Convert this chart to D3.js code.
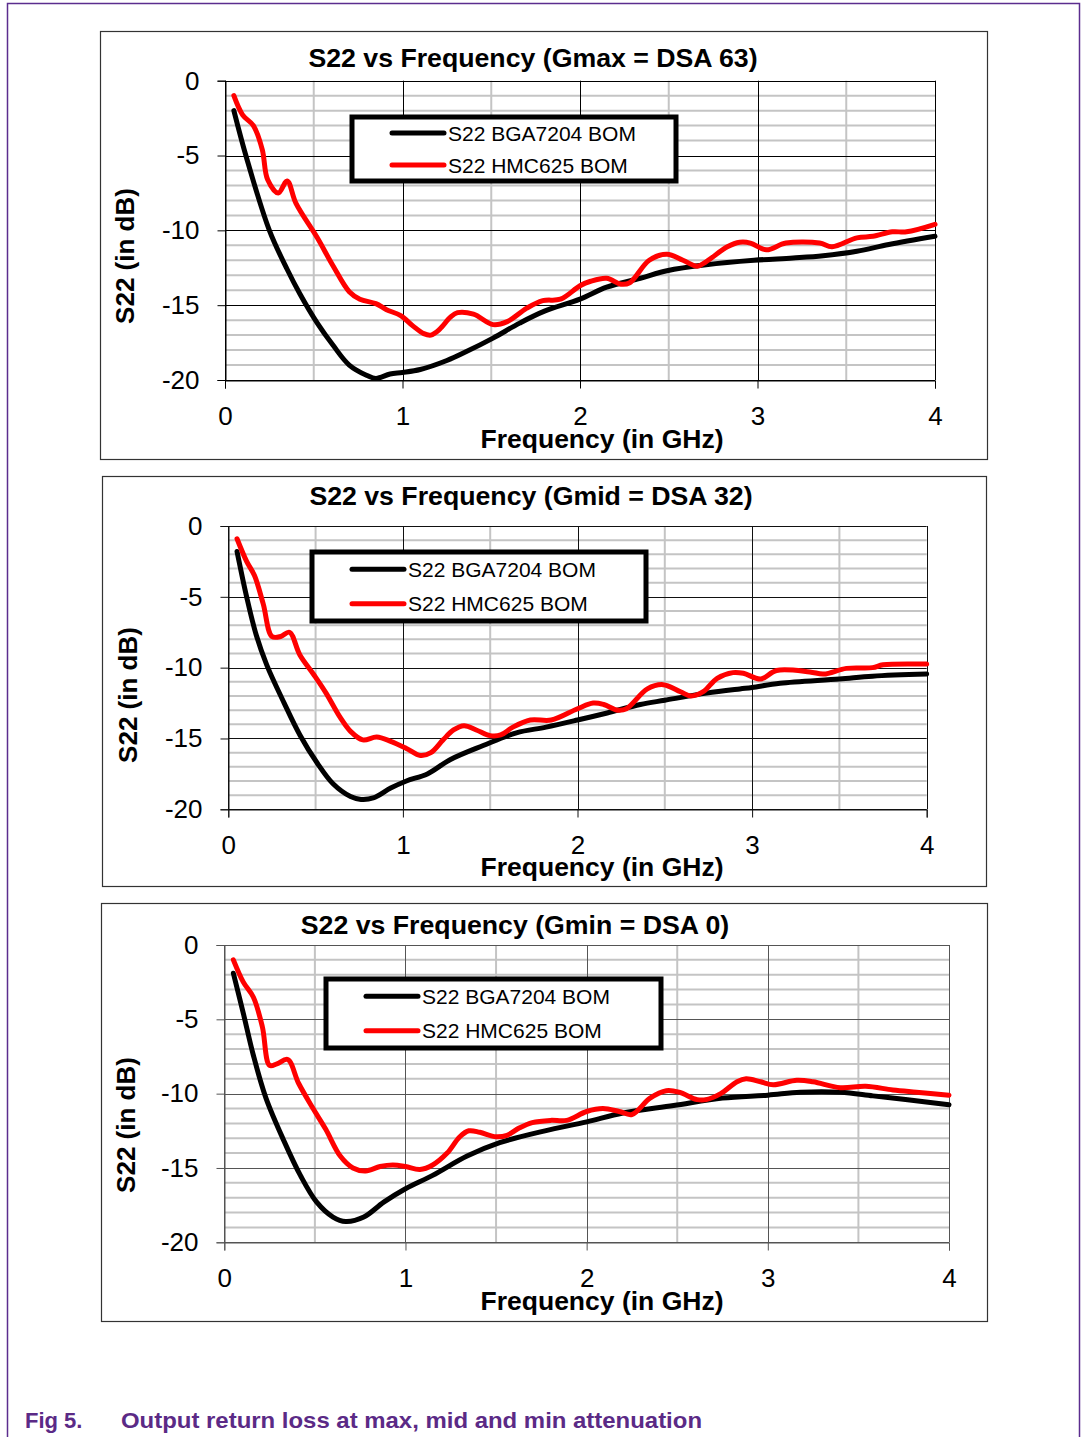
<!DOCTYPE html>
<html>
<head>
<meta charset="utf-8">
<script src="https://cdn.jsdelivr.net/npm/d3@7"></script>
<style>
  body { margin: 0; background: #fff; }
  svg { display: block; font-family: Arial, "Liberation Sans", sans-serif; }
</style>
</head>
<body>
<svg id="fig"></svg>
<script>
const width = 1081;
const height = 1437;

// ---- data ----
const xTicks = [0, 1, 2, 3, 4];
const yTicks = [0, -5, -10, -15, -20];
const seriesNames = ['S22 BGA7204 BOM', 'S22 HMC625 BOM'];
const chartTitles = [
  'S22 vs Frequency (Gmax = DSA 63)',
  'S22 vs Frequency (Gmid = DSA 32)',
  'S22 vs Frequency (Gmin = DSA 0)'
];

// Gmax = DSA 63
const maxBgaFreq = [0.05, 0.12, 0.25, 0.35, 0.42, 0.52, 0.61, 0.70, 0.80, 0.85, 0.93, 1.0, 1.1, 1.25, 1.36, 1.51, 1.66, 1.8, 2.0, 2.15, 2.34, 2.49, 2.71, 2.98, 3.2, 3.37, 3.56, 3.74, 4.0];
const maxBgaS22 = [-2.0, -5.1, -10.0, -12.6, -14.2, -16.2, -17.7, -19.0, -19.7, -19.9, -19.6, -19.5, -19.3, -18.7, -18.1, -17.2, -16.2, -15.4, -14.6, -13.8, -13.2, -12.7, -12.3, -12.0, -11.85, -11.7, -11.4, -10.95, -10.4];
const maxHmcFreq = [0.05, 0.10, 0.16, 0.21, 0.24, 0.30, 0.35, 0.40, 0.52, 0.61, 0.70, 0.76, 0.85, 0.91, 0.99, 1.06, 1.12, 1.16, 1.21, 1.27, 1.31, 1.40, 1.51, 1.59, 1.70, 1.79, 1.89, 2.0, 2.06, 2.15, 2.23, 2.28, 2.39, 2.49, 2.58, 2.66, 2.71, 2.83, 2.9, 2.96, 3.05, 3.16, 3.35, 3.42, 3.56, 3.65, 3.76, 3.84, 4.0];
const maxHmcS22 = [-1.0, -2.3, -3.0, -4.6, -6.6, -7.5, -6.7, -8.2, -10.5, -12.4, -14.1, -14.6, -14.9, -15.3, -15.7, -16.4, -16.9, -17.0, -16.6, -15.8, -15.5, -15.6, -16.3, -16.1, -15.2, -14.7, -14.6, -13.7, -13.4, -13.2, -13.6, -13.5, -12.0, -11.6, -12.0, -12.4, -12.1, -11.1, -10.8, -10.85, -11.3, -10.85, -10.85, -11.1, -10.5, -10.4, -10.1, -10.1, -9.6];

// Gmid = DSA 32
const midBgaFreq = [0.05, 0.105, 0.16, 0.22, 0.32, 0.41, 0.51, 0.60, 0.70, 0.76, 0.83, 0.93, 1.02, 1.14, 1.27, 1.46, 1.65, 1.82, 2.0, 2.17, 2.36, 2.5, 2.74, 2.93, 3.0, 3.16, 3.5, 3.69, 4.0];
const midBgaS22 = [-1.8, -5.0, -7.7, -9.8, -12.5, -14.75, -16.75, -18.2, -19.1, -19.3, -19.2, -18.5, -18.0, -17.5, -16.5, -15.5, -14.6, -14.2, -13.7, -13.2, -12.6, -12.3, -11.8, -11.5, -11.4, -11.1, -10.8, -10.6, -10.45];
const midHmcFreq = [0.05, 0.105, 0.15, 0.2, 0.25, 0.30, 0.35, 0.41, 0.49, 0.56, 0.64, 0.70, 0.77, 0.85, 0.93, 1.02, 1.10, 1.16, 1.23, 1.29, 1.35, 1.42, 1.50, 1.56, 1.63, 1.73, 1.85, 2.0, 2.09, 2.15, 2.23, 2.28, 2.4, 2.49, 2.59, 2.65, 2.72, 2.8, 2.89, 2.95, 3.05, 3.14, 3.33, 3.41, 3.54, 3.69, 3.75, 4.0];
const midHmcS22 = [-0.9, -2.5, -3.5, -5.5, -7.8, -7.8, -7.5, -9.1, -10.5, -11.8, -13.5, -14.5, -15.1, -14.9, -15.2, -15.7, -16.2, -16.0, -15.1, -14.4, -14.1, -14.4, -14.8, -14.75, -14.2, -13.7, -13.7, -12.9, -12.5, -12.6, -13.0, -12.9, -11.5, -11.2, -11.7, -12.0, -11.7, -10.75, -10.35, -10.4, -10.8, -10.2, -10.3, -10.45, -10.05, -10.0, -9.8, -9.75];

// Gmin = DSA 0
const minBgaFreq = [0.05, 0.105, 0.16, 0.23, 0.33, 0.42, 0.51, 0.60, 0.67, 0.77, 0.88, 1.0, 1.15, 1.34, 1.52, 1.77, 2.0, 2.2, 2.48, 2.75, 3.0, 3.18, 3.4, 3.58, 3.76, 4.0];
const minBgaS22 = [-1.9, -4.6, -7.4, -10.3, -13.2, -15.5, -17.3, -18.3, -18.6, -18.3, -17.3, -16.4, -15.5, -14.2, -13.3, -12.5, -11.9, -11.3, -10.8, -10.3, -10.1, -9.9, -9.9, -10.15, -10.4, -10.75];
const minHmcFreq = [0.05, 0.105, 0.16, 0.21, 0.25, 0.29, 0.35, 0.41, 0.49, 0.56, 0.64, 0.71, 0.78, 0.86, 0.93, 1.0, 1.08, 1.15, 1.23, 1.30, 1.35, 1.41, 1.50, 1.56, 1.63, 1.70, 1.80, 1.89, 2.0, 2.09, 2.18, 2.25, 2.35, 2.44, 2.51, 2.61, 2.66, 2.74, 2.83, 2.88, 2.96, 3.03, 3.16, 3.25, 3.40, 3.54, 3.69, 3.82, 4.0];
const minHmcS22 = [-1.0, -2.5, -3.5, -5.5, -8.1, -8.0, -7.7, -9.3, -11.0, -12.4, -14.2, -15.0, -15.2, -14.9, -14.8, -14.9, -15.1, -14.8, -14.0, -12.9, -12.5, -12.6, -12.9, -12.8, -12.3, -11.95, -11.8, -11.8, -11.2, -11.0, -11.2, -11.4, -10.3, -9.8, -9.9, -10.4, -10.4, -10.0, -9.2, -9.0, -9.2, -9.4, -9.1, -9.2, -9.6, -9.5, -9.75, -9.9, -10.1];

const seriesColors = ['#000000', '#ff0000'];

// layout of each of the three excel charts (pixel boxes)
const layouts = [
  { frame: [100, 31, 987, 459], plot: [225, 80.7, 935, 380], title: [533, 67], yTitle: [125, 256], xTitle: [602, 448],
    legend: [352, 117, 676, 181], majorColor: '#000' },
  { frame: [102, 476, 986, 886], plot: [228.3, 526, 926.7, 809.3], title: [531, 505], yTitle: [127.5, 695], xTitle: [602, 876],
    legend: [312, 552, 646, 621], majorColor: '#111' },
  { frame: [101, 903, 987, 1321], plot: [224.3, 945, 949, 1242.3], title: [515, 934], yTitle: [125.7, 1125], xTitle: [602, 1310],
    legend: [326, 979, 661, 1048], majorColor: '#555' }
];

const chartData = [
  [[maxBgaFreq, maxBgaS22], [maxHmcFreq, maxHmcS22]],
  [[midBgaFreq, midBgaS22], [midHmcFreq, midHmcS22]],
  [[minBgaFreq, minBgaS22], [minHmcFreq, minHmcS22]]
];

const svg = d3.select('#fig')
  .attr('width', width)
  .attr('height', height);

svg.append('rect').attr('width', width).attr('height', height).attr('fill', '#fff');

// purple page border (left, top, right)
svg.append('path')
  .attr('d', 'M7.5,1437 V3.5 H1079.5 V1437')
  .attr('fill', 'none')
  .attr('stroke', '#5b2d8e')
  .attr('stroke-width', 1.5);

chartData.forEach((series, i) => {
  const L = layouts[i];
  const [px0, py0, px1, py1] = L.plot;
  const g = svg.append('g');

  // chart frame
  g.append('rect')
    .attr('x', L.frame[0] + 0.5).attr('y', L.frame[1] + 0.5)
    .attr('width', L.frame[2] - L.frame[0]).attr('height', L.frame[3] - L.frame[1])
    .attr('fill', '#fff').attr('stroke', '#333').attr('stroke-width', 1.2);

  const x = d3.scaleLinear().domain([0, 4]).range([px0, px1]);
  const y = d3.scaleLinear().domain([-20, 0]).range([py1, py0]);

  // minor gridlines
  const minorY = d3.range(-19, 0, 1).filter(v => v % 5 !== 0);
  g.selectAll('.minorY').data(minorY).enter().append('line')
    .attr('x1', px0).attr('x2', px1)
    .attr('y1', d => y(d)).attr('y2', d => y(d))
    .attr('stroke', '#c4c4c4').attr('stroke-width', 2);
  const minorX = [0.5, 1.5, 2.5, 3.5];
  g.selectAll('.minorX').data(minorX).enter().append('line')
    .attr('y1', py0).attr('y2', py1)
    .attr('x1', d => x(d)).attr('x2', d => x(d))
    .attr('stroke', '#c4c4c4').attr('stroke-width', 2);

  // major gridlines
  g.selectAll('.majorY').data(yTicks).enter().append('line')
    .attr('x1', px0).attr('x2', px1)
    .attr('y1', d => Math.round(y(d)) + 0.5).attr('y2', d => Math.round(y(d)) + 0.5)
    .attr('stroke', L.majorColor).attr('stroke-width', 1);
  g.selectAll('.majorX').data(xTicks).enter().append('line')
    .attr('y1', py0).attr('y2', py1)
    .attr('x1', d => Math.round(x(d)) + 0.5).attr('x2', d => Math.round(x(d)) + 0.5)
    .attr('stroke', L.majorColor).attr('stroke-width', 1);

  // axes
  const yAxis = g.append('g')
    .attr('transform', `translate(${Math.round(px0) + 0.5},0)`)
    .call(d3.axisLeft(y).tickValues(yTicks).tickSize(8).tickPadding(18).tickFormat(d3.format('d')));
  const xAxis = g.append('g')
    .attr('transform', `translate(0,${Math.round(py1) + 0.5})`)
    .call(d3.axisBottom(x).tickValues(xTicks).tickSize(8).tickPadding(18).tickFormat(d3.format('d')));
  [yAxis, xAxis].forEach(a => {
    a.select('.domain').attr('stroke', L.majorColor);
    a.selectAll('.tick line').attr('stroke', L.majorColor);
    a.selectAll('.tick text')
      .attr('font-family', 'Arial, "Liberation Sans", sans-serif')
      .attr('font-size', 26)
      .attr('fill', '#000');
  });
  // excel style minus sign
  yAxis.selectAll('.tick text').text(d => String(d));

  // curves
  const line = d3.line()
    .x(d => x(d[0]))
    .y(d => y(d[1]))
    .curve(d3.curveCatmullRom.alpha(0.5));
  series.forEach((s, k) => {
    const pts = s[0].map((f, j) => [f, s[1][j]]);
    g.append('path')
      .datum(pts)
      .attr('d', line)
      .attr('fill', 'none')
      .attr('stroke', seriesColors[k])
      .attr('stroke-width', 5)
      .attr('stroke-linejoin', 'round')
      .attr('stroke-linecap', 'round');
  });

  // titles
  g.append('text')
    .attr('x', L.title[0]).attr('y', L.title[1])
    .attr('text-anchor', 'middle')
    .attr('font-size', 26.7).attr('font-weight', 'bold')
    .text(chartTitles[i]);
  g.append('text')
    .attr('x', L.xTitle[0]).attr('y', L.xTitle[1])
    .attr('text-anchor', 'middle')
    .attr('font-size', 26.5).attr('font-weight', 'bold')
    .text('Frequency (in GHz)');
  g.append('text')
    .attr('transform', `translate(${L.yTitle[0]},${L.yTitle[1]}) rotate(-90)`)
    .attr('text-anchor', 'middle')
    .attr('dy', '0.36em')
    .attr('font-size', 26).attr('font-weight', 'bold')
    .text('S22 (in dB)');

  // legend
  const [lx0, ly0, lx1, ly1] = L.legend;
  const leg = g.append('g');
  leg.append('rect')
    .attr('x', lx0).attr('y', ly0)
    .attr('width', lx1 - lx0).attr('height', ly1 - ly0)
    .attr('fill', '#fff').attr('stroke', '#000').attr('stroke-width', 5);
  const rowH = (ly1 - ly0) / 2;
  seriesNames.forEach((name, k) => {
    const cy = ly0 + rowH * (k + 0.5);
    leg.append('line')
      .attr('x1', lx0 + 40).attr('x2', lx0 + 92)
      .attr('y1', cy).attr('y2', cy)
      .attr('stroke', seriesColors[k]).attr('stroke-width', 5)
      .attr('stroke-linecap', 'round');
    leg.append('text')
      .attr('x', lx0 + 96).attr('y', cy + 7.5)
      .attr('font-size', 21)
      .text(name);
  });
});

// figure caption
const caption = svg.append('g').attr('fill', '#5b2a86').attr('font-weight', 'bold').attr('font-size', 22);
caption.append('text').attr('x', 25).attr('y', 1428).text('Fig 5.');
caption.append('text').attr('x', 121).attr('y', 1428)
  .attr('textLength', 581).attr('lengthAdjust', 'spacingAndGlyphs')
  .text('Output return loss at max, mid and min attenuation');
</script>
</body>
</html>
